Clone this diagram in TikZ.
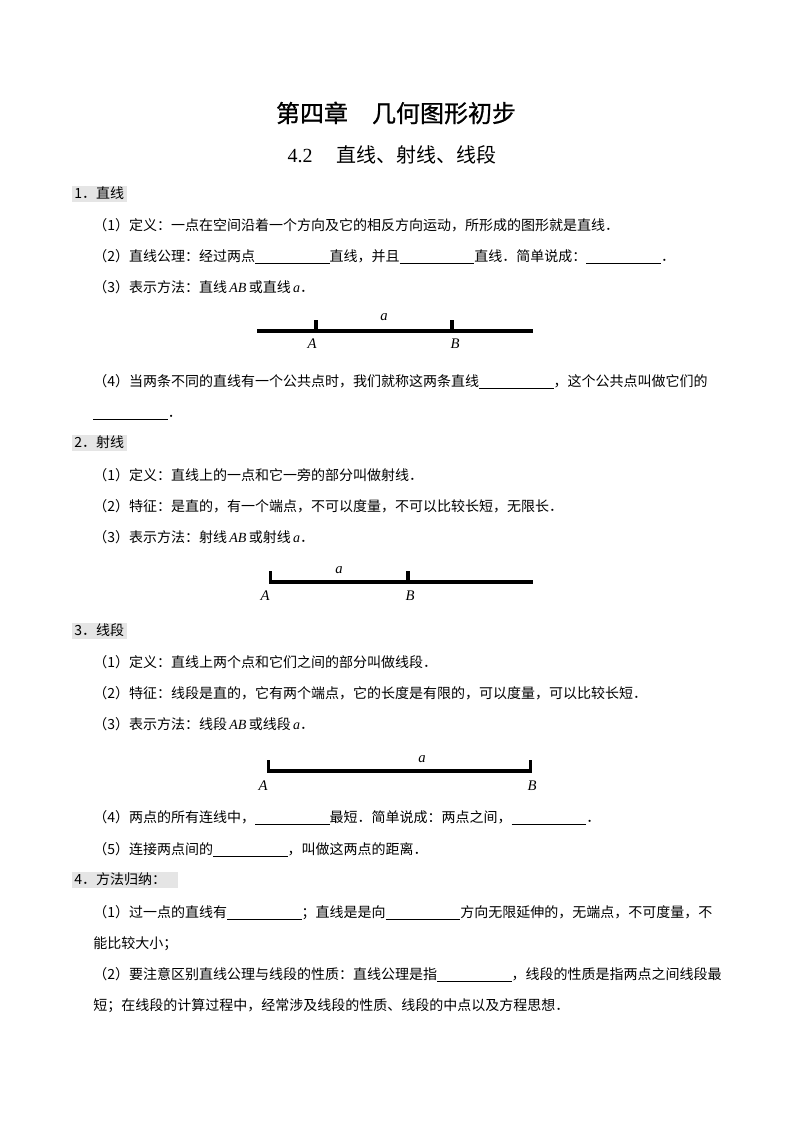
\documentclass[tikz,border=0pt]{standalone}
\usepackage{fontspec}
\setmainfont{Noto Sans CJK SC}
\newfontfamily\titlefont[FakeBold=0.8]{Noto Sans CJK SC}
\newfontfamily\tms{Liberation Serif}
\newcommand\ita[1]{{\tms\itshape #1}}
\newcommand\blank{\rule[-2.2pt]{56pt}{0.6pt}}
\begin{document}
\begin{tikzpicture}[x=0.75pt,y=-0.75pt,
  txt/.style={anchor=base west,inner sep=0pt,font=\fontsize{10.5pt}{12pt}\selectfont},
  head/.style={anchor=base west,inner sep=0pt,font=\fontsize{10.5pt}{12pt}\selectfont},
  hbox/.style={fill=black!10,draw=none},
  lab/.style={inner sep=0pt,font=\fontsize{11pt}{12pt}\tms\itshape},
  thick line/.style={line width=3.5pt,line cap=butt},
  tick/.style={line width=2.6pt,line cap=butt}]
\useasboundingbox[fill=white] (0,0) rectangle (794,1123);

% title
\node[inner sep=0pt,font=\fontsize{18pt}{20pt}\titlefont] (title) at (396,113) {第四章\hspace{1em}几何图形初步};
\node[inner sep=0pt,font=\fontsize{15pt}{17pt}\selectfont] (subtitle) at (392,155) {{\tms 4.2}\hspace{1.2em}直线、射线、线段};

% section 1
\fill[hbox] (72,186) rectangle (127,202);
\node[head] (h1) at (74,198.5) {1．直线};
\node[txt] (s1a) at (93,230) {（1）定义：一点在空间沿着一个方向及它的相反方向运动，所形成的图形就是直线．};
\node[txt] (s1b) at (93,261) {（2）直线公理：经过两点\blank 直线，并且\blank 直线．简单说成：\blank．};
\node[txt] (s1c) at (93,292) {（3）表示方法：直线\,\ita{AB}\,或直线\,\ita{a}．};
% figure 1
\coordinate (l1s) at (257,331);
\coordinate (l1e) at (533,331);
\draw[thick line] (l1s) -- (l1e);
\coordinate (t1a) at (316,331);
\coordinate (t1b) at (452,331);
\draw[tick] (t1a) -- ++(0,-11);
\draw[tick] (t1b) -- ++(0,-11);
\node[lab] (a1) at (384,317) {a};
\node[lab] (A1) at (312,344) {A};
\node[lab] (B1) at (455,344) {B};
\node[txt] (s1d) at (93,386) {（4）当两条不同的直线有一个公共点时，我们就称这两条直线\blank，这个公共点叫做它们的};
\node[txt] (s1e) at (93,417) {\blank．};

% section 2
\fill[hbox] (72,435) rectangle (127,451);
\node[head] (h2) at (74,447.5) {2．射线};
\node[txt] (s2a) at (93,480) {（1）定义：直线上的一点和它一旁的部分叫做射线．};
\node[txt] (s2b) at (93,511) {（2）特征：是直的，有一个端点，不可以度量，不可以比较长短，无限长．};
\node[txt] (s2c) at (93,542) {（3）表示方法：射线\,\ita{AB}\,或射线\,\ita{a}．};
% figure 2
\coordinate (l2s) at (269,582);
\coordinate (l2e) at (533,582);
\draw[thick line] (l2s) -- (l2e);
\coordinate (t2a) at (270.7,582);
\coordinate (t2b) at (408,582);
\draw[tick] (t2a) -- ++(0,-11);
\draw[tick] (t2b) -- ++(0,-11);
\node[lab] (a2) at (339,570) {a};
\node[lab] (A2) at (265,596) {A};
\node[lab] (B2) at (410,596) {B};

% section 3
\fill[hbox] (72,623) rectangle (127,639);
\node[head] (h3) at (74,635.5) {3．线段};
\node[txt] (s3a) at (93,667) {（1）定义：直线上两个点和它们之间的部分叫做线段．};
\node[txt] (s3b) at (93,698) {（2）特征：线段是直的，它有两个端点，它的长度是有限的，可以度量，可以比较长短．};
\node[txt] (s3c) at (93,729) {（3）表示方法：线段\,\ita{AB}\,或线段\,\ita{a}．};
% figure 3
\coordinate (l3s) at (267,771);
\coordinate (l3e) at (532,771);
\draw[thick line] (l3s) -- (l3e);
\coordinate (t3a) at (268.7,771);
\coordinate (t3b) at (530.3,771);
\draw[tick] (t3a) -- ++(0,-11);
\draw[tick] (t3b) -- ++(0,-11);
\node[lab] (a3) at (422,759) {a};
\node[lab] (A3) at (263,786) {A};
\node[lab] (B3) at (532,786) {B};
\node[txt] (s3d) at (93,822) {（4）两点的所有连线中，\blank 最短．简单说成：两点之间，\blank．};
\node[txt] (s3e) at (93,854) {（5）连接两点间的\blank，叫做这两点的距离．};

% section 4
\fill[hbox] (72,872) rectangle (178,888);
\node[head] (h4) at (74,884.5) {4．方法归纳：};
\node[txt] (s4a) at (93,917) {（1）过一点的直线有\blank；直线是是向\blank 方向无限延伸的，无端点，不可度量，不};
\node[txt] (s4b) at (93,948) {能比较大小；};
\node[txt] (s4c) at (93,979) {（2）要注意区别直线公理与线段的性质：直线公理是指\blank，线段的性质是指两点之间线段最};
\node[txt] (s4d) at (93,1010) {短；在线段的计算过程中，经常涉及线段的性质、线段的中点以及方程思想．};
\end{tikzpicture}
\end{document}
